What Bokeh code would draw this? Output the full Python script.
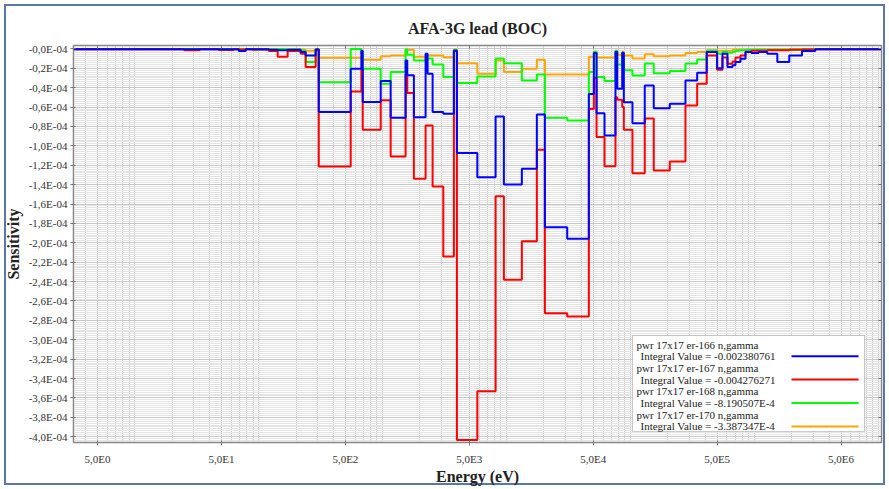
from bokeh.plotting import figure
from bokeh.models import (Range1d, FixedTicker, CustomJSTickFormatter, LinearAxis,
                          LogAxis, BoxAnnotation, Label)
from bokeh.embed import file_html
from bokeh.resources import INLINE

# Energy group boundaries (eV)
edges = [1, 25, 33.4, 47.5, 62.8, 69, 78.5, 89.4, 96.3, 120.5, 142, 171, 218, 239,
         288, 305, 552, 673, 690, 964, 1160, 1531, 1580, 1786, 2220, 2305, 2529,
         3085, 3756, 3972, 5806, 8153, 9508, 13277, 17544, 20370, 30850, 46100,
         50600, 53200, 61700, 75600, 78100, 85700, 88300, 103700, 130300, 154000,
         207400, 277500, 345000, 412000, 500000, 552000, 606000, 665000, 703000,
         771000, 847000, 946000, 1.08e6, 1.27e6, 1.53e6, 1.91e6, 2.42e6, 3.10e6, 2.0e7]

# Group sensitivities, in units of 1E-4
er166 = [-0.003, -0.003, -0.003, -0.003, -0.003, -0.023, -0.004, -0.004, -0.004, -0.01,
         -0.015, -0.008, -0.033, -0.067, -0.006, -0.652, -0.204, -0.02, -0.549, -0.332,
         -0.71, -0.119, -0.273, -0.704, -0.05, -0.256, -0.652, -0.669, -0.02, -1.075,
         -1.323, -0.697, -1.398, -1.236, -0.676, -1.839, -1.959, -0.465, -0.043, -0.663,
         -0.893, -0.03, -0.41, -0.04, -0.55, -0.766, -0.377, -0.611, -0.566, -0.325,
         -0.245, -0.033, -0.2, -0.05, -0.188, -0.17, -0.136, -0.101, -0.033, -0.043,
         -0.033, -0.05, -0.136, -0.067, -0.023, -0.003]
er167 = [-0.003, -0.015, -0.004, -0.012, -0.004, -0.006, -0.004, -0.005, -0.005, -0.023,
         -0.08, -0.023, -0.05, -0.188, -0.006, -1.213, -0.439, -0.2, -0.834, -0.531,
         -1.109, -0.26, -0.456, -1.34, -0.789, -0.789, -1.419, -2.141, -0.02, -4.033,
         -3.531, -1.519, -2.382, -1.983, -1.04, -2.726, -2.761, -0.62, -0.3, -0.91,
         -1.21, -0.5, -0.524, -0.6, -0.834, -1.282, -0.717, -1.254, -1.161, -0.583,
         -0.359, -0.067, -0.215, -0.09, -0.153, -0.13, -0.09, -0.067, -0.03, -0.02,
         -0.02, -0.015, -0.015, -0.01, -0.005, -0.003]
er168 = [-0.002, -0.002, -0.002, -0.002, -0.002, -0.005, -0.002, -0.003, -0.003, -0.004,
         0.0, -0.004, -0.02, -0.136, -0.004, -0.343, 0.0, -0.05, -0.204, -0.359,
         -0.239, -0.005, -0.06, -0.12, -0.1, -0.1, -0.16, -0.291, -0.01, -0.353,
         -0.284, -0.1, -0.147, -0.325, -0.263, -0.71, -0.738, -0.239, -0.03, -0.29,
         -0.33, -0.02, -0.16, -0.05, -0.22, -0.275, -0.15, -0.25, -0.229, -0.15,
         -0.11, -0.02, -0.05, -0.03, -0.04, -0.03, -0.02, -0.015, -0.01, -0.01,
         -0.01, -0.01, -0.01, -0.005, -0.003, -0.002]
er170 = [-0.002, -0.002, -0.002, -0.002, -0.002, -0.002, -0.002, -0.015, -0.003, -0.003,
         -0.004, -0.004, -0.01, -0.02, -0.004, -0.091, -0.091, -0.08, -0.111, -0.077,
         -0.067, -0.008, -0.008, -0.08, -0.06, -0.067, -0.067, -0.085, -0.01, -0.147,
         -0.256, -0.119, -0.239, -0.204, -0.111, -0.263, -0.263, -0.08, -0.03, -0.09,
         -0.09, -0.02, -0.06, -0.03, -0.067, -0.1, -0.055, -0.077, -0.067, -0.043,
         -0.033, -0.015, -0.02, -0.02, -0.02, -0.01, -0.01, -0.01, -0.01, -0.01,
         -0.005, -0.005, -0.005, -0.003, -0.002, -0.002]

series_names = ["pwr 17x17 er-166 n,gamma", "pwr 17x17 er-167 n,gamma",
                "pwr 17x17 er-168 n,gamma", "pwr 17x17 er-170 n,gamma"]
integral_texts = ["Integral Value = -0.002380761", "Integral Value = -0.004276271",
                  "Integral Value = -8.190507E-4", "Integral Value = -3.387347E-4"]
series_values = [er166, er167, er168, er170]
series_colors = ["#0000ff", "#ff0000", "#00ff00", "#ffa500"]

SCALE = 1e-4
major_x = [5 * 10 ** k for k in range(0, 7)]
minor_x = [m * 10 ** k for k in range(0, 8) for m in range(1, 10) if m != 5]
major_y = [-round(0.2 * i, 1) * SCALE for i in range(0, 21)]
minor_y = [-0.02 * i * SCALE for i in range(0, 206)]

FONT = "Liberation Serif"

p = figure(width=889, height=489, x_axis_type="log",
           x_range=Range1d(3.2, 1.06e7), y_range=Range1d(-4.06e-4, 0.035e-4),
           output_backend="svg", toolbar_location=None,
           min_border_left=73, min_border_right=8, min_border_top=45, min_border_bottom=47,
           background_fill_color="white", border_fill_color=None)

# The canvas border area is transparent, so the host element's background and
# its inset outline form the frame around the whole chart
p.styles = {"background-color": "white",
            "outline": "2px solid #5878a8", "outline-offset": "-6px"}

p.title.text = "AFA-3G lead (BOC)"
p.title.align = "center"
p.title.text_font = FONT
p.title.text_font_size = "16px"
p.title.text_font_style = "bold"
p.title.text_color = "#222222"
p.title.standoff = 0

xticker = FixedTicker(ticks=major_x, minor_ticks=minor_x)
yticker = FixedTicker(ticks=major_y, minor_ticks=minor_y)

xfmt = CustomJSTickFormatter(code="return '5,0E' + Math.round(Math.log10(tick / 5));")
yfmt = CustomJSTickFormatter(code="""
    const v = Math.abs(tick) * 1e4;
    return '-' + v.toFixed(1).replace('.', ',') + 'E-04';
""")
blank = CustomJSTickFormatter(code="return ' ';")

for ax in p.xaxis:
    ax.ticker = xticker
    ax.formatter = xfmt
for ax in p.yaxis:
    ax.ticker = yticker
    ax.formatter = yfmt

for ax in list(p.xaxis) + list(p.yaxis):
    ax.major_label_text_font = FONT
    ax.major_label_text_font_size = "11px"
    ax.major_label_text_color = "#333333"
    ax.axis_label_text_font = FONT
    ax.axis_label_text_font_style = "bold"
    ax.axis_label_text_font_size = "16px"
    ax.axis_label_text_color = "#222222"
    ax.axis_line_color = "#888888"
    ax.major_tick_line_color = "#777777"
    ax.minor_tick_line_color = None
    ax.major_tick_in = 2
    ax.major_tick_out = 3

p.xaxis.axis_label = "Energy (eV)"
p.yaxis.axis_label = "Sensitivity"
p.xaxis.major_label_standoff = 6
p.xaxis.axis_label_standoff = 0
p.yaxis.major_label_standoff = 2
p.yaxis.axis_label_standoff = 4

# Tick-only axes on the top and right edges
top_axis = LogAxis(ticker=xticker, formatter=blank, major_label_text_font_size="2px",
                   major_label_standoff=0,
                   axis_line_color="#888888", major_tick_line_color="#777777",
                   minor_tick_line_color=None, major_tick_in=3, major_tick_out=0)
right_axis = LinearAxis(ticker=yticker, formatter=blank, major_label_text_font_size="2px",
                        major_label_standoff=0,
                        axis_line_color="#888888", major_tick_line_color="#777777",
                        minor_tick_line_color=None, major_tick_in=3, major_tick_out=0)
p.add_layout(top_axis, "above")
p.add_layout(right_axis, "right")

p.xgrid.ticker = xticker
p.xgrid.grid_line_color = "#c4c4c4"
p.xgrid.minor_grid_line_color = "#d0d0d0"
p.ygrid.ticker = yticker
p.ygrid.grid_line_color = "#c8c8c8"
p.ygrid.minor_grid_line_color = "#e4e4e4"
p.outline_line_color = "#808080"
p.outline_line_width = 1.5

# Step curves: drawn in reverse order so the first series sits on top
for vals, color in reversed(list(zip(series_values, series_colors))):
    ys = [v * SCALE for v in vals]
    ys.append(ys[-1])
    p.step(x=edges, y=ys, mode="after", line_color=color, line_width=2)

# Legend panel
p.add_layout(BoxAnnotation(left=632, right=864, top=335, bottom=431,
                           left_units="canvas", right_units="canvas",
                           top_units="canvas", bottom_units="canvas",
                           fill_color="white", fill_alpha=1.0,
                           line_color="#555555", line_width=1))
row_h = 11.7
for i, (name, itext, color) in enumerate(zip(series_names, integral_texts, series_colors)):
    y1 = 344 + 2 * i * row_h
    y2 = y1 + row_h
    p.add_layout(Label(x=636, y=y1, x_units="canvas", y_units="canvas", text=name,
                       text_font=FONT, text_font_size="11px", text_color="#222222",
                       text_baseline="middle"))
    p.add_layout(Label(x=640, y=y2, x_units="canvas", y_units="canvas", text=itext,
                       text_font=FONT, text_font_size="11px", text_color="#222222",
                       text_baseline="middle"))
    p.add_layout(BoxAnnotation(left=791, right=858, top=y2 - 1, bottom=y2 + 1,
                               left_units="canvas", right_units="canvas",
                               top_units="canvas", bottom_units="canvas",
                               fill_color=color, fill_alpha=1.0, line_color=None))

open("out.html", "w").write(file_html(p, INLINE))
